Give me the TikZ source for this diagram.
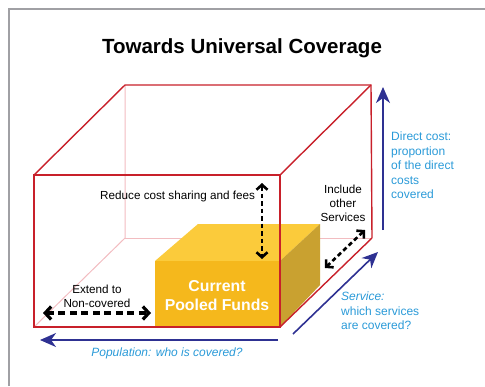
\documentclass[tikz,border=0pt]{standalone}
\usepackage{fontspec}
\setmainfont{Liberation Sans}
\usetikzlibrary{arrows.meta}
\definecolor{cubered}{HTML}{C8202A}
\definecolor{cubepink}{HTML}{F2BCC0}
\definecolor{axisblue}{HTML}{2E3192}
\definecolor{textblue}{HTML}{2A9AD8}
\definecolor{goldfront}{HTML}{F5B81C}
\definecolor{goldtop}{HTML}{FBCB3B}
\definecolor{goldside}{HTML}{C9A130}
\definecolor{framegray}{HTML}{A0A0A4}

\begin{document}
\begin{tikzpicture}[x=1pt,y=-1pt,
  edge/.style={draw=cubered,line width=1.4pt},
  hidden/.style={draw=cubepink,line width=1pt},
  push/.style={line width=2.6pt,dash pattern=on 4.5pt off 3pt,
    {Straight Barb[length=5pt,width=11pt]}-{Straight Barb[length=5pt,width=11pt]}},
  bigpush/.style={line width=3.2pt,dash pattern=on 7pt off 4.5pt,
    {Straight Barb[length=6pt,width=13pt]}-{Straight Barb[length=6pt,width=13pt]}},
  axis/.style={draw=axisblue,line width=1.6pt,-{Stealth[length=16pt,width=14pt,inset=5pt]}},
  note/.style={font=\fontsize{11.7}{14}\selectfont,align=center,inner sep=0pt},
  axnote/.style={font=\fontsize{12}{14.5}\selectfont,text=textblue,align=left,inner sep=0pt}]
  \useasboundingbox (0,0) rectangle (485,386);
  \draw[framegray,line width=2pt] (9,386) -- (9,9) -- (485,9);
  \node[font=\bfseries\fontsize{20.5}{22}\selectfont] (title) at (242,48) {Towards Universal Coverage};
  % cube corners
  \coordinate (ftl) at (34,175);
  \coordinate (ftr) at (280,175);
  \coordinate (fbl) at (34,327);
  \coordinate (fbr) at (280,327);
  \coordinate (btl) at (125,85);
  \coordinate (btr) at (371,85);
  \coordinate (bbl) at (125,238);
  \coordinate (bbr) at (372,238);
  \draw[hidden] (fbl) -- (bbl) -- (btl);
  \draw[hidden] (bbl) -- (bbr);
  \draw[edge] (ftl) -- (btl) -- (btr) -- (bbr);
  \draw[edge] (ftr) -- (btr);
  % pooled funds box
  \fill[goldtop] (155,261) -- (198,224) -- (320,224) -- (280,261) -- cycle;
  \fill[goldside] (280,261) -- (320,224) -- (320,285) -- (280,327) -- cycle;
  \fill[goldfront] (155,261) rectangle (280,327);
  \node[font=\bfseries\fontsize{15.8}{19}\selectfont,text=white,align=center] (pool) at (217,296) {Current\\Pooled Funds};
  \draw[edge] (ftl) rectangle (fbr);
  \draw[edge] (fbr) -- (bbr);
  % pushes
  \node[note,anchor=west] (reduce) at (100,196) {Reduce cost sharing and fees};
  \node[note] (include) at (343,203) {Include\\other\\Services};
  \node[note] (extend) at (97,296) {Extend to\\Non-covered};
  \coordinate (ra) at (262,183);
  \coordinate (rb) at (262,259);
  \coordinate (ia) at (365,230);
  \coordinate (ib) at (325,268);
  \coordinate (ea) at (43,313);
  \coordinate (eb) at (151,313);
  \draw[push] (ra) -- (rb);
  \draw[push] (ia) -- (ib);
  \draw[bigpush] (ea) -- (eb);
  % axes
  \coordinate (pa) at (278,340);
  \coordinate (pb) at (40,340);
  \coordinate (sa) at (293,334);
  \coordinate (sb) at (378,252);
  \coordinate (da) at (383,230);
  \coordinate (db) at (383,87);
  \draw[axis] (pa) -- (pb);
  \draw[axis] (sa) -- (sb);
  \draw[axis] (da) -- (db);
  \node[axnote,font=\itshape\fontsize{12}{14.5}\selectfont] (population) at (167,353) {Population: who is covered?};
  \node[axnote,anchor=north west] (service) at (341,292) {\textit{Service:}\\which services\\are covered?};
  \node[axnote,anchor=north west] (direct) at (391,132) {Direct cost:\\proportion\\of the direct\\costs\\covered};
\end{tikzpicture}
\end{document}
